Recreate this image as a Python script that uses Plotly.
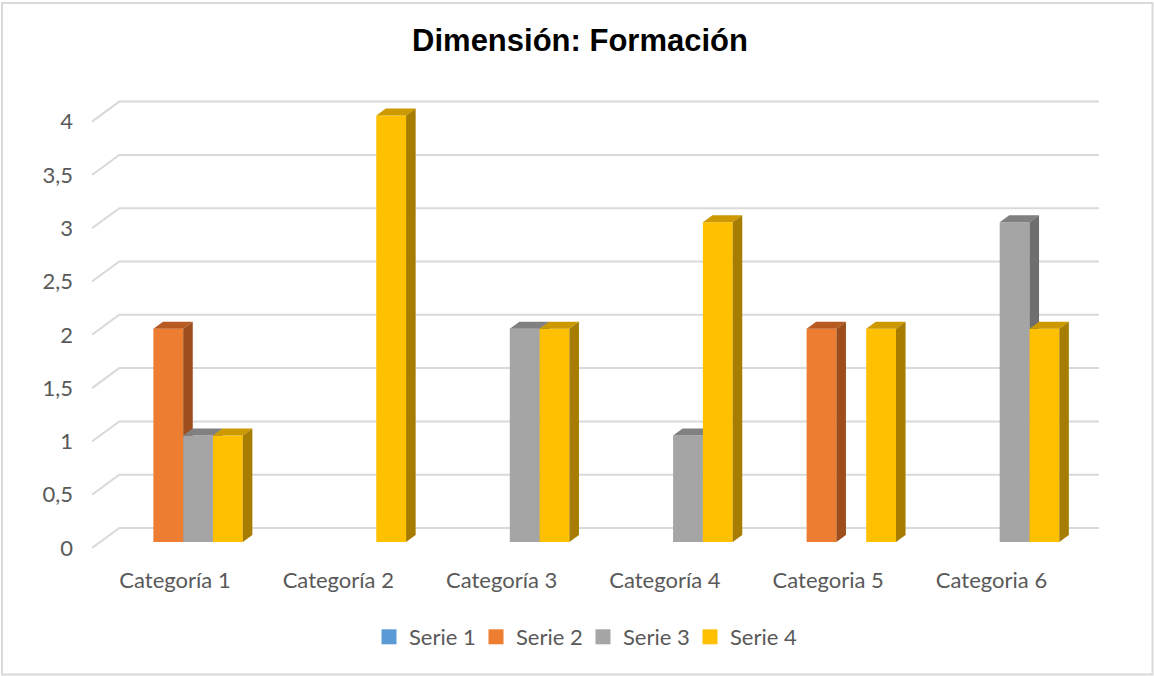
import plotly.graph_objects as go

# ---- data ----
categories = ["Categoría 1", "Categoría 2", "Categoría 3", "Categoría 4", "Categoria 5", "Categoria 6"]
series_names = ["Serie 1", "Serie 2", "Serie 3", "Serie 4"]
serie1 = [0, 0, 0, 0, 0, 0]
serie2 = [2, 0, 0, 0, 2, 0]
serie3 = [1, 0, 2, 1, 0, 3]
serie4 = [1, 4, 2, 3, 2, 2]
y_tick_values = [0, 0.5, 1, 1.5, 2, 2.5, 3, 3.5, 4]
y_tick_labels = ["0", "0,5", "1", "1,5", "2", "2,5", "3", "3,5", "4"]

series_values = [serie1, serie2, serie3, serie4]

# ---- styling ----
front_colors = ["#5B9BD5", "#ED7D31", "#A5A5A5", "#FFC000"]
top_colors = ["#4A7FB0", "#B85B22", "#808080", "#CC9A00"]
side_colors = ["#3E6D98", "#9E4E1C", "#6E6E6E", "#A67D00"]
text_color = "#595959"
grid_color = "#D9D9D9"

W, H = 1154, 676
L, R, T, B = 92, 1099, 80, 560          # plot area in pixels
cat_px = 163.3                           # pixels per category
unit_px = 106.6                          # pixels per value unit
first_cat_px = 175                       # centre of first category (front plane)
zero_px = 548                            # value 0 on the front plane

x_lo = -(first_cat_px - L) / cat_px
x_hi = x_lo + (R - L) / cat_px
y_lo = -(B - zero_px) / unit_px
y_hi = y_lo + (B - T) / unit_px

# 3D depth projection (full depth of the wall) in axis units
DX = 27.3 / cat_px
DY = 20.0 / unit_px
bar_front, bar_back = 0.30, 0.65        # bar position inside the depth
bar_w = 29.8 / cat_px                    # bar width in category units


def proj(x, v, d):
    return x + d * DX, v + d * DY


fig = go.Figure()

# gridlines: side wall (diagonal) + back wall (horizontal)
for v in y_tick_values:
    xa, ya = proj(x_lo, v, 0)
    xb, yb = proj(x_lo, v, 1)
    fig.add_trace(go.Scatter(
        x=[xa, xb, x_hi], y=[ya, yb, yb], mode="lines",
        line=dict(color=grid_color, width=2), cliponaxis=False,
        showlegend=False, hoverinfo="skip"))

# 3D bars: front, top and side faces per series, left to right
n_series = len(series_values)
for k, vals in enumerate(series_values):
    faces = {"front": ([], []), "top": ([], []), "side": ([], [])}
    for i, v in enumerate(vals):
        if v == 0:
            continue
        xl = i - n_series / 2 * bar_w + k * bar_w
        xr = xl + bar_w
        f, b = bar_front, bar_back
        polys = {
            "front": [proj(xl, 0, f), proj(xr, 0, f), proj(xr, v, f), proj(xl, v, f)],
            "top": [proj(xl, v, f), proj(xr, v, f), proj(xr, v, b), proj(xl, v, b)],
            "side": [proj(xr, 0, f), proj(xr, 0, b), proj(xr, v, b), proj(xr, v, f)],
        }
        for name, pts in polys.items():
            xs, ys = faces[name]
            xs.extend([p[0] for p in pts] + [pts[0][0], None])
            ys.extend([p[1] for p in pts] + [pts[0][1], None])
    for name, color in (("front", front_colors[k]), ("top", top_colors[k]), ("side", side_colors[k])):
        xs, ys = faces[name]
        if not xs:
            continue
        fig.add_trace(go.Scatter(
            x=xs, y=ys, mode="lines", fill="toself", fillcolor=color,
            line=dict(width=0, color=color), showlegend=False, hoverinfo="skip"))

# legend entries
for k, name in enumerate(series_names):
    fig.add_trace(go.Scatter(x=[None], y=[None], mode="markers", name=name,
                             marker=dict(symbol="square", size=15, color=front_colors[k])))

plot_w = R - L
plot_h = B - T
fig.update_layout(
    width=W, height=H,
    margin=dict(l=L, r=W - R, t=T, b=H - B),
    paper_bgcolor="white", plot_bgcolor="white",
    font=dict(family="Lato", size=22, color=text_color),
    title=dict(text="<b>Dimensión: Formación</b>", x=580 / W, xref="container", xanchor="center",
               y=1 - 40 / H, yref="container", yanchor="middle",
               font=dict(family="Liberation Sans", size=31, color="black")),
    xaxis=dict(range=[x_lo, x_hi], tickvals=list(range(len(categories))), ticktext=categories,
               showgrid=False, zeroline=False, showline=False, ticks="",
               ticklabelstandoff=5, fixedrange=True),
    yaxis=dict(range=[y_lo, y_hi], tickvals=y_tick_values, ticktext=y_tick_labels,
               showgrid=False, zeroline=False, showline=False, ticks="",
               ticklabelstandoff=18, fixedrange=True),
    legend=dict(orientation="h", x=(583 - L) / plot_w, xanchor="center",
                y=1 - (637 - T) / plot_h, yanchor="middle",
                entrywidth=62, entrywidthmode="pixels",
                font=dict(family="Lato", size=22, color=text_color)),
    showlegend=True,
    shapes=[dict(type="rect", xref="paper", yref="paper",
                 x0=(2 - L) / plot_w, x1=(1152.5 - L) / plot_w,
                 y0=1 - (674.5 - T) / plot_h, y1=1 - (3 - T) / plot_h,
                 line=dict(color=grid_color, width=2), fillcolor="rgba(0,0,0,0)", layer="below")],
)

fig.write_html("out.html")
